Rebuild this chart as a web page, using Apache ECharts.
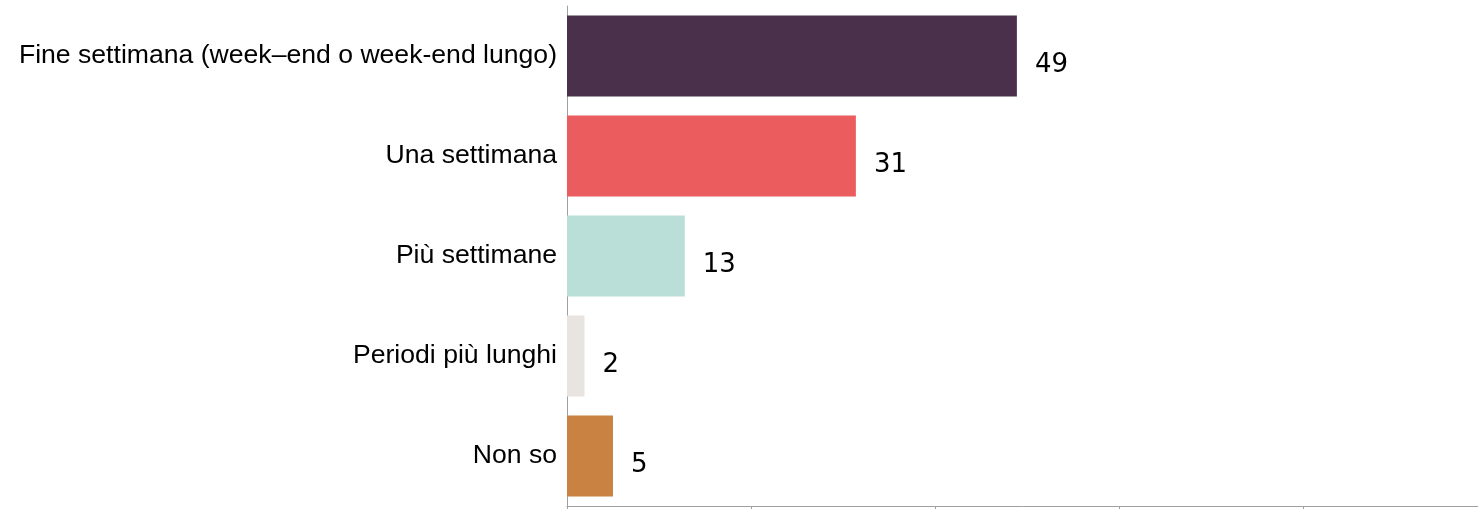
<!DOCTYPE html>
<html>
<head>
<meta charset="utf-8">
<script src="https://cdn.jsdelivr.net/npm/echarts@6/dist/echarts.min.js"></script>
<style>
  html, body { margin: 0; padding: 0; background: #fff; }
  #chart { width: 1478px; height: 509px; }
</style>
</head>
<body>
<div id="chart"></div>
<script>
// categorie (dall'alto in basso)
var categories = [
  "Fine settimana (week\u2013end o week-end lungo)",
  "Una settimana",
  "Più settimane",
  "Periodi più lunghi",
  "Non so"
];
// percentuali
var values = [48.9, 31.4, 12.8, 1.9, 5.0];
var barColors = ["#4a304a", "#ea5c5e", "#b9dfd8", "#e8e4e1", "#c98241"];
var xTicks = [0, 20, 40, 60, 80, 100];

var myChart = echarts.init(document.getElementById("chart"));

var option = {
  animation: false,
  grid: {
    left: 567,
    top: 6,
    width: 920,
    height: 500,
    outerBoundsMode: "none",
    containLabel: false
  },
  xAxis: {
    type: "value",
    min: xTicks[0],
    max: xTicks[xTicks.length - 1],
    interval: xTicks[1] - xTicks[0],
    splitLine: { show: false },
    axisLine: { show: true, lineStyle: { color: "#a0a0a0", width: 1 } },
    axisTick: { show: true, length: 8, lineStyle: { color: "#a0a0a0" } },
    axisLabel: { show: true, color: "#000", fontSize: 16 }
  },
  yAxis: {
    type: "category",
    inverse: true,
    data: categories,
    axisLine: { show: true, lineStyle: { color: "#a0a0a0", width: 1 } },
    axisTick: { show: false },
    axisLabel: {
      margin: 10,
      color: "#000",
      fontFamily: "Liberation Sans",
      fontSize: 26.6,
      padding: [6, 0, 0, 0]
    }
  },
  series: [
    {
      type: "bar",
      barCategoryGap: "19%",
      data: values.map(function (v, i) {
        return { value: v, itemStyle: { color: barColors[i] } };
      }),
      label: {
        show: true,
        position: "right",
        distance: 18,
        offset: [0, 9],
        color: "#000",
        fontFamily: "DejaVu Sans",
        fontSize: 26,
        formatter: function (p) {
          return Math.round(p.value);
        }
      }
    }
  ]
};

myChart.setOption(option);
</script>
</body>
</html>
